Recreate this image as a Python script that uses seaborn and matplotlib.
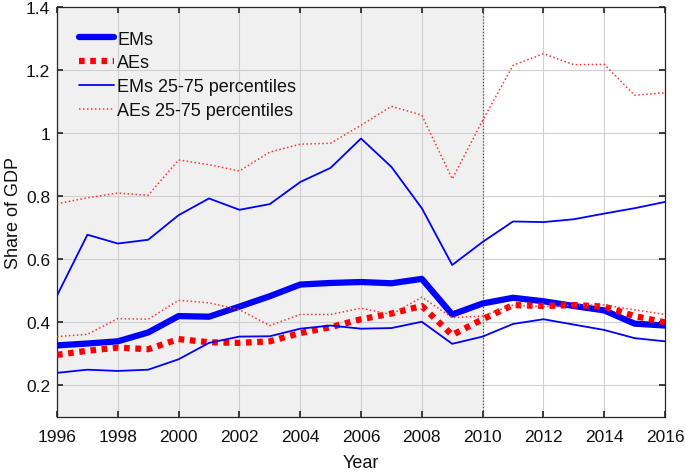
import matplotlib
matplotlib.use("Agg")
import matplotlib.pyplot as plt
import seaborn as sns
import pandas as pd

years = list(range(1996, 2017))
ems = [0.327, 0.333, 0.340, 0.368, 0.420, 0.418, 0.450, 0.483, 0.520, 0.525, 0.528,
       0.524, 0.538, 0.425, 0.460, 0.478, 0.467, 0.452, 0.438, 0.396, 0.390]
aes = [0.297, 0.310, 0.320, 0.315, 0.347, 0.337, 0.335, 0.340, 0.366, 0.385, 0.410,
       0.428, 0.452, 0.360, 0.410, 0.455, 0.452, 0.455, 0.450, 0.420, 0.400]
ems_p25 = [0.240, 0.250, 0.246, 0.250, 0.283, 0.335, 0.355, 0.356, 0.380, 0.390, 0.380,
           0.382, 0.402, 0.332, 0.355, 0.395, 0.410, 0.393, 0.376, 0.350, 0.340]
ems_p75 = [0.485, 0.678, 0.650, 0.662, 0.740, 0.793, 0.757, 0.775, 0.845, 0.890, 0.983,
           0.893, 0.762, 0.582, 0.655, 0.720, 0.718, 0.727, 0.745, 0.762, 0.782]
aes_p25 = [0.355, 0.362, 0.412, 0.410, 0.470, 0.462, 0.440, 0.390, 0.425, 0.425, 0.445,
           0.425, 0.480, 0.415, 0.420, 0.455, 0.450, 0.455, 0.455, 0.440, 0.425]
aes_p75 = [0.776, 0.795, 0.810, 0.803, 0.915, 0.900, 0.880, 0.940, 0.965, 0.968, 1.025,
           1.085, 1.057, 0.855, 1.040, 1.215, 1.252, 1.217, 1.218, 1.120, 1.128]
x_ticks = list(range(1996, 2017, 2))
y_ticks = [0.2, 0.4, 0.6, 0.8, 1.0, 1.2, 1.4]
y_tick_labels = ["0.2", "0.4", "0.6", "0.8", "1", "1.2", "1.4"]
shade_start, shade_end = 1996, 2010

sns.set_theme(style="white")
plt.rcParams['font.family'] = ['Liberation Sans', 'DejaVu Sans']

fig = plt.figure(figsize=(6.85, 4.77), dpi=100)
ax = fig.add_axes([57/685, 59/477, 608/685, 410/477])

ax.axvspan(shade_start, shade_end, color="#f0f0f0", zorder=0, lw=0)
ax.axvline(shade_end, color="#555555", lw=0.9, ls=(0, (1, 1.5)), zorder=1)

df = pd.DataFrame({"Year": years, "EMs": ems, "AEs": aes,
                   "ems25": ems_p25, "ems75": ems_p75, "aes25": aes_p25, "aes75": aes_p75})

sns.lineplot(data=df, x="Year", y="EMs", ax=ax, color="#0000ff", lw=4.5, label="EMs", zorder=3)
sns.lineplot(data=df, x="Year", y="AEs", ax=ax, color="#ff0000", lw=4.5, ls=(0, (0.9, 0.9)),
             label="AEs", zorder=3)
sns.lineplot(data=df, x="Year", y="ems25", ax=ax, color="#0000ff", lw=1.3,
             label="EMs 25-75 percentiles", zorder=3)
sns.lineplot(data=df, x="Year", y="ems75", ax=ax, color="#0000ff", lw=1.3, zorder=3)
sns.lineplot(data=df, x="Year", y="aes25", ax=ax, color="#ff3333", lw=1.1, ls=(0, (1, 1.6)),
             label="AEs 25-75 percentiles", zorder=3)
sns.lineplot(data=df, x="Year", y="aes75", ax=ax, color="#ff3333", lw=1.1, ls=(0, (1, 1.6)), zorder=3)

ax.set_xlim(1996, 2016)
ax.set_ylim(0.1, 1.4)
ax.set_xticks(x_ticks)
ax.set_yticks(y_ticks)
ax.set_yticklabels(y_tick_labels)
ax.grid(True, color="#d0d0d0", lw=0.8, zorder=0)
ax.set_axisbelow(True)
ax.tick_params(direction="in", length=4, labelsize=12.5, colors="#262626", labelcolor="#111111",
               top=True, right=True, bottom=True, left=True)
ax.tick_params(axis="x", pad=9)
ax.tick_params(axis="y", pad=5)
for s in ax.spines.values():
    s.set_color("#262626")
    s.set_linewidth(0.9)
ax.set_xlabel("Year", fontsize=13, labelpad=7, color="#111111")
ax.set_ylabel("Share of GDP", fontsize=13, labelpad=3, color="#111111")

leg = ax.legend(loc="upper left", frameon=False, fontsize=13, handlelength=1.9,
                borderaxespad=0.0, labelspacing=0.38, handletextpad=0.2,
                bbox_to_anchor=(0.025, 0.96))
for t in leg.get_texts():
    t.set_color("#111111")

fig.savefig("out.png", dpi=100)
